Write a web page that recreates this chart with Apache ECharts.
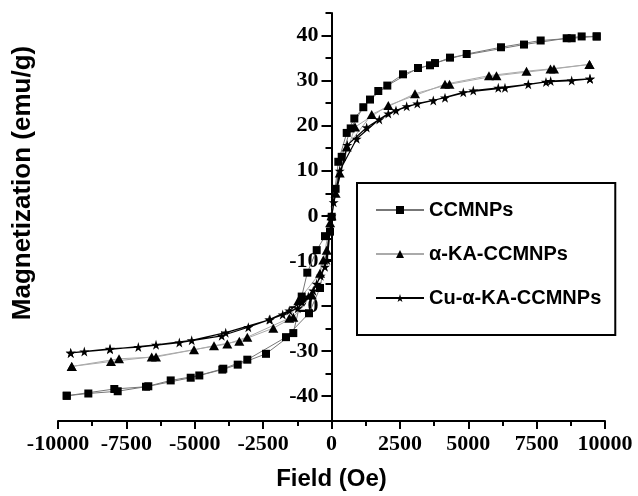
<!DOCTYPE html>
<html>
<head>
<meta charset="utf-8">
<script src="https://cdn.jsdelivr.net/npm/echarts@6/dist/echarts.min.js"></script>
<style>
html,body{margin:0;padding:0;background:#fff;}
#chart{width:638px;height:496px;}
</style>
</head>
<body>
<div id="chart"></div>
<script>
// field (Oe), magnetization (emu/g) -- descending and ascending branches
var ccDown = [[9696,39.8],[8782,39.4],[7648,38.9],[6197,37.4],[4943,35.9],[3784,33.9],[2614,31.4],[1711,27.7],[1163,24.1],[702,19.4],[373,13.1],[150,6],[7,-0.2],[-238,-4.5],[-541,-7.6],[-885,-12.6],[-1089,-17.9],[-1397,-26.0],[-2395,-30.6],[-3429,-33.0],[-3992,-34.1],[-4833,-35.4],[-5879,-36.5],[-6782,-37.9],[-7941,-38.4],[-9681,-39.9]]
var ccUp = [[-9681,-39.9],[-8891,-39.4],[-7817,-38.9],[-6698,-37.8],[-5148,-35.9],[-3956,-33.9],[-3078,-31.9],[-1663,-26.9],[-823,-21.6],[-420,-16.0],[-55,-3.5],[249,12.0],[556,18.4],[834,21.6],[1408,25.8],[2040,28.9],[3163,32.8],[3601,33.4],[4332,35.1],[7038,38.0],[8599,39.4],[9147,39.8],[9696,39.8]]

var kaDown = [[9433,33.6],[8135,32.6],[6032,31.1],[4314,29.2],[3053,27.1],[1470,22.5],[556,15.3],[150,5],[-50,-1.5],[-300,-9.8],[-724,-17.5],[-1397,-22.5],[-2128,-24.9],[-3371,-27.8],[-4296,-28.8],[-5027,-29.7],[-6416,-31.3],[-7769,-31.7],[-9498,-33.4]]
var kaUp = [[-9498,-33.4],[-8062,-32.3],[-6574,-31.3],[-3810,-28.4],[-3078,-26.9],[-1543,-22.7],[-1214,-18.8],[-420,-12.7],[-175,-7.6],[0,0],[300,9.5],[860,19.7],[2077,24.5],[4150,29.2],[5758,31.1],[7129,32.1],[8007,32.6],[9433,33.6]]

var cuDown = [[9451,30.4],[8014,29.9],[7195,29.2],[6098,28.4],[5184,27.8],[4150,26.2],[3137,24.9],[2358,23.4],[1748,21.4],[921,17.1],[300,10],[0,0],[-154,-9.8],[-395,-13.3],[-665,-16.6],[-1089,-19.0],[-1543,-21.0],[-2274,-23.0],[-3042,-24.7],[-4014,-26.6],[-5564,-28.1],[-7063,-29.1],[-8098,-29.5],[-9535,-30.4]]
var cuUp = [[-9535,-30.4],[-9038,-30.1],[-8098,-29.6],[-6416,-28.6],[-5111,-27.6],[-3868,-25.9],[-2248,-23.0],[-1784,-21.9],[-1236,-20.5],[-848,-17.9],[-541,-15.1],[-238,-11.3],[80,3],[578,15.7],[1287,19.6],[2077,22.7],[2749,24.3],[3722,25.6],[4819,27.4],[6343,28.4],[7842,29.7],[8782,30.0],[9451,30.4]]

var yMajor = [-40,-30,-20,-10,0,10,20,30,40]
var yMinor = [-35,-25,-15,-5,5,15,25,35,45]

var star = 'path://M50,0 L61,35 L98,35 L68,57 L79,91 L50,70 L21,91 L32,57 L2,35 L39,35 Z'
var tickFont = 'Liberation Serif'

var chart = echarts.init(document.getElementById('chart'))
// y axis sits at field = 0, in the middle of the plot
var gridLeft = 58, gridRight = 33
var zeroOffset = -((638 - gridLeft - gridRight) / 2)

option = {
	animation:false,
	backgroundColor:'#fff',
	grid:{left:gridLeft, right:gridRight, top:13, bottom:74},
	legend:{
		orient:'vertical',
		left:357,
		top:183,
		padding:[17,14,27,18],
		itemGap:24,
		itemWidth:48,
		itemHeight:10,
		borderColor:'#000',
		borderWidth:2,
		textStyle:{fontFamily:'Liberation Sans', fontWeight:'bold', fontSize:20, color:'#000'},
		data:['CCMNPs','α-KA-CCMNPs','Cu-α-KA-CCMNPs']
	},
	graphic:[{
		type:'text',
		x:23, y:183,
		rotation:Math.PI/2,
		style:{text:'Magnetization (emu/g)', fontFamily:'Liberation Sans', fontWeight:'bold', fontSize:26, fill:'#000', textAlign:'center', textVerticalAlign:'middle'}
	}],
	xAxis:{
		type:'value',
		min:-10000, max:10000, interval:2500,
		name:'Field (Oe)',
		nameLocation:'middle',
		nameGap:46,
		nameTextStyle:{fontFamily:'Liberation Sans', fontWeight:'bold', fontSize:24, color:'#000'},
		axisLine:{onZero:false, lineStyle:{color:'#000', width:2}},
		axisTick:{inside:false, length:8, lineStyle:{color:'#000', width:2}},
		minorTick:{show:true, splitNumber:2, length:5, lineStyle:{color:'#000', width:2}},
		axisLabel:{margin:12, fontFamily:tickFont, fontWeight:'bold', fontSize:22, color:'#000',
			formatter:function(v){ return String(v) }},
		splitLine:{show:false}
	},
	yAxis:[{
		type:'value',
		position:'left',
		offset:zeroOffset,
		min:-45.5, max:45,
		axisLine:{onZero:false, lineStyle:{color:'#000', width:2}},
		axisTick:{customValues:yMajor, length:10, lineStyle:{color:'#000', width:2}},
		axisLabel:{customValues:yMajor, margin:13, fontFamily:tickFont, fontWeight:'bold', fontSize:22, color:'#000',
			formatter:function(v){ return String(v) }},
		splitLine:{show:false}
	},{
		type:'value',
		position:'left',
		offset:zeroOffset,
		min:-45.5, max:45,
		axisLine:{show:false, onZero:false},
		axisTick:{customValues:yMinor, length:6, lineStyle:{color:'#000', width:2}},
		axisLabel:{show:false},
		splitLine:{show:false}
	}],
	series:[{
		name:'CCMNPs',
		type:'line',
		data:ccDown.concat(ccUp),
		symbol:'rect',
		symbolSize:8,
		itemStyle:{color:'#000'},
		lineStyle:{color:'#777', width:1}
	},{
		name:'α-KA-CCMNPs',
		type:'line',
		data:kaDown.concat(kaUp),
		symbol:'triangle',
		symbolSize:[10,9],
		itemStyle:{color:'#000'},
		lineStyle:{color:'#aaa', width:1}
	},{
		name:'Cu-α-KA-CCMNPs',
		type:'line',
		data:cuDown.concat(cuUp),
		symbol:star,
		symbolSize:10,
		itemStyle:{color:'#000'},
		lineStyle:{color:'#000', width:1.2}
	}]
}
chart.setOption(option)
</script>
</body>
</html>
